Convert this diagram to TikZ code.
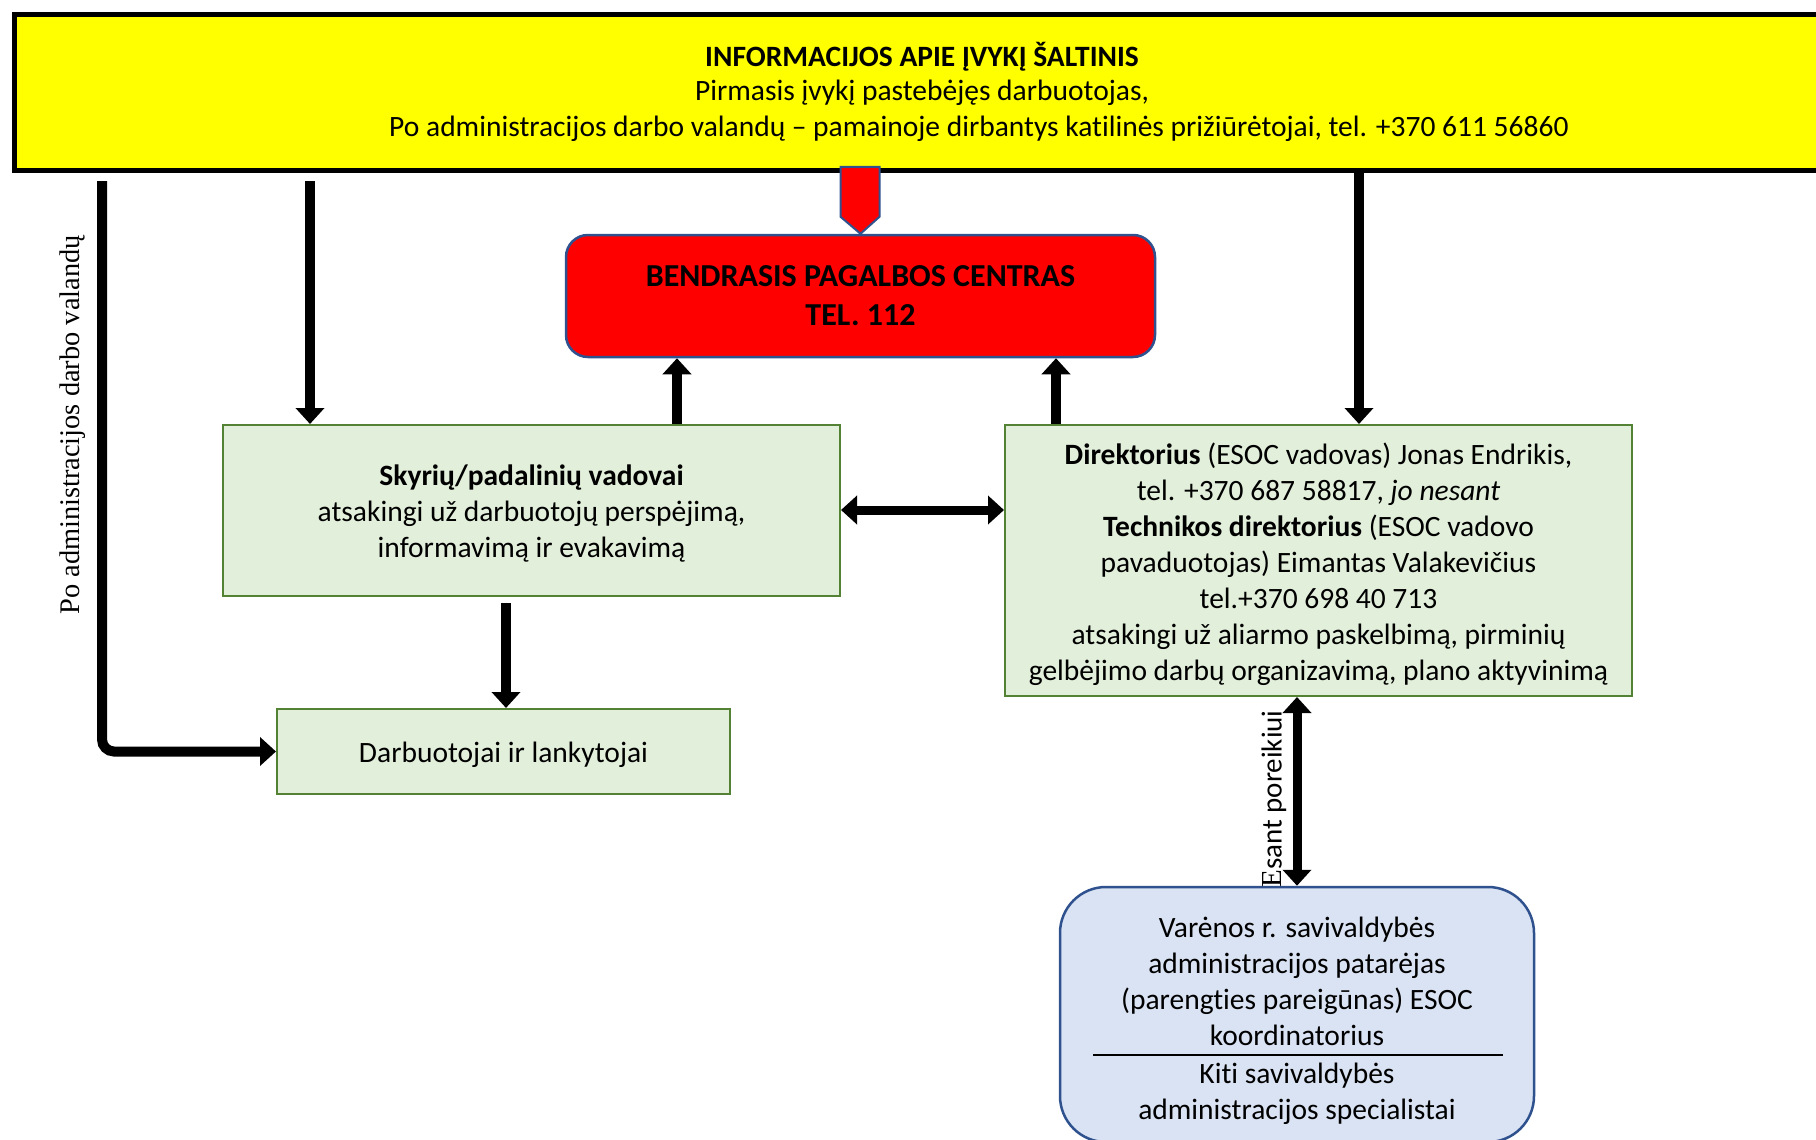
\documentclass[tikz,border=0pt]{standalone}
\usepackage{fontspec}
\setmainfont{Carlito}[Ligatures=NoCommon]
\newfontfamily\serifl{Liberation Serif}
\usetikzlibrary{arrows.meta,calc}
\definecolor{ylw}{HTML}{FFFF00}
\definecolor{grfill}{HTML}{E2EFDA}
\definecolor{grline}{HTML}{548235}
\definecolor{bluline}{HTML}{2F528F}
\definecolor{blufill}{HTML}{DAE3F3}
\begin{document}
\begin{tikzpicture}[x=1pt,y=-1pt,
  txt/.style={font=\fontsize{29.5}{36}\selectfont, align=center, inner sep=0pt, yshift=-2.5pt},
  greenbox/.style={draw=grline, line width=2pt, fill=grfill, rectangle},
  arr/.style={line width=10pt, -{Triangle[width=28pt,length=16pt]}},
  darr/.style={line width=9pt, {Triangle[width=28pt,length=16pt]}-{Triangle[width=28pt,length=16pt]}}]
\useasboundingbox (0,0) rectangle (1816,1140);

% source box
\node (src) [draw, line width=5pt, fill=ylw, minimum width=1830pt, minimum height=156pt, anchor=north west, inner sep=0pt] at (12,12) {};
\node (t1) [txt, font=\fontsize{29.5}{36}\selectfont\bfseries] at (922,54) {INFORMACIJOS APIE ĮVYKĮ ŠALTINIS};
\node (t2) [txt] at (922,90) {Pirmasis įvykį pastebėjęs darbuotojas,};
\node (t3) [txt] at (979,126) {Po administracijos darbo valandų – pamainoje dirbantys katilinės prižiūrėtojai, tel. +370 611 56860};

% red box
\node (red) [draw=bluline, line width=2.5pt, fill=red, rounded corners=22pt, minimum width=589pt, minimum height=122pt,
  font=\fontsize{32}{39}\selectfont\bfseries, align=center] at (860.5,296) {BENDRASIS PAGALBOS CENTRAS\\TEL. 112};

% pentagon arrow
\draw[draw=bluline, line width=2pt, fill=red, line join=miter]
  ($(red.north)+(-20,-67)$) -- ++(39,0) -- ++(0,50) -- ($(red.north)+(0,0)$) -- ($(red.north)+(-20,-17)$) -- cycle;

% green boxes
\node (sk) [greenbox, minimum width=617pt, minimum height=171pt] at (531.5,510.5) {};
\node (skt) [txt] at (531.5,511) {\textbf{Skyrių/padalinių vadovai}\\atsakingi už darbuotojų perspėjimą,\\informavimą ir evakavimą};

\node (dl) [greenbox, minimum width=453pt, minimum height=85pt] at (503.5,751.5) {};
\node (dlt) [txt] at (503.5,752) {Darbuotojai ir lankytojai};

\node (dir) [greenbox, minimum width=627pt, minimum height=271pt] at (1318.5,560.5) {};
\node (dirt) [txt] at (1318.5,561.5) {\textbf{Direktorius} (ESOC vadovas) Jonas Endrikis,\\tel. +370 687 58817, \textit{jo nesant}\\\textbf{Technikos direktorius} (ESOC vadovo\\pavaduotojas) Eimantas Valakevičius\\tel.+370 698 40 713\\atsakingi už aliarmo paskelbimą, pirminių\\gelbėjimo darbų organizavimą, plano aktyvinimą};

% blue box
\node (var) [draw=bluline, line width=2.5pt, fill=blufill, rounded corners=46pt, minimum width=474pt, minimum height=255pt] at (1297,1014.5) {};
\node (vart) [txt] at (1297,979) {Varėnos r. savivaldybės\\administracijos patarėjas\\(parengties pareigūnas) ESOC\\koordinatorius};
\node (varb) [txt] at (1297,1091) {Kiti savivaldybės\\administracijos specialistai};
\coordinate (rl) at (1093,1055);
\coordinate (rr) at (1503,1055);
\draw[line width=1.5pt] (rl) -- (rr);

% x-coordinates for connectors
\coordinate (xl) at (102,0);
\coordinate (xa) at (310,0);
\coordinate (xb) at (677,0);
\coordinate (xc) at (1056,0);
\coordinate (xd) at (1359,0);
\coordinate (xe) at (506,0);
\coordinate (yh) at (0,510);

% connectors
\draw[arr, rounded corners=12pt] ([yshift=-8pt]src.south -| xl) |- (dl.west);
\draw[arr] ([yshift=-8pt]src.south -| xa) -- (sk.north -| xa);
\draw[arr] (src.south -| xd) -- (dir.north -| xd);
\draw[arr] (sk.north -| xb) -- (red.south -| xb);
\draw[arr] (dir.north -| xc) -- (red.south -| xc);
\draw[darr] (sk.east |- yh) -- (dir.west |- yh);
\draw[arr] ([yshift=-6pt]sk.south -| xe) -- (dl.north -| xe);
\draw[darr] (dir.south -| var.north) -- (var.north);

% rotated labels
\node (lab1) [rotate=90, font=\serifl\fontsize{28.4}{32}\selectfont, inner sep=0pt] at (73,425) {Po administracijos darbo valandų};
\node (lab2) [rotate=90, font=\fontsize{29}{32}\selectfont, inner sep=0pt] at (1274,799) {{\serifl E}sant poreikiui};
\end{tikzpicture}
\end{document}
